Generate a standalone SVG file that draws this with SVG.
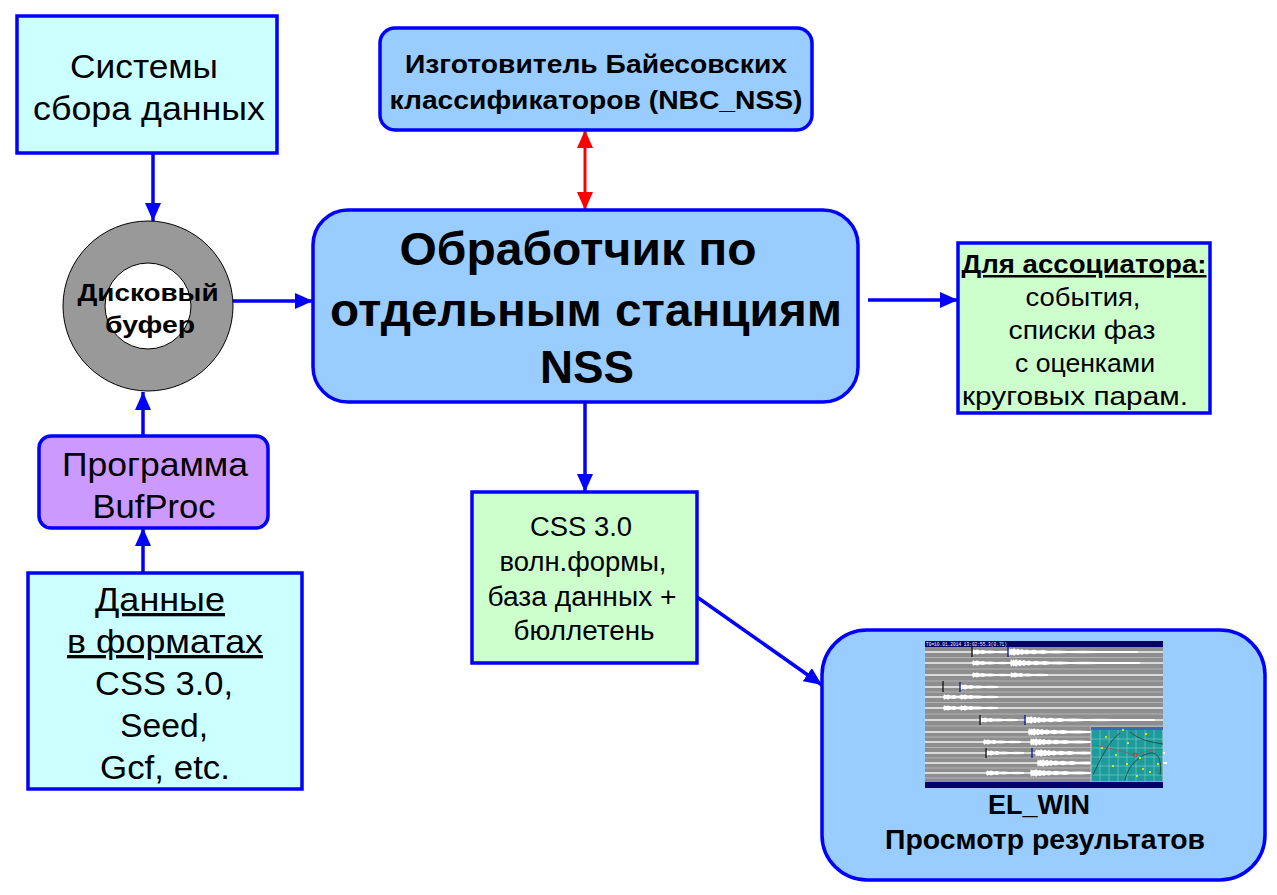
<svg xmlns="http://www.w3.org/2000/svg" xmlns:xlink="http://www.w3.org/1999/xlink" width="1277" height="895" viewBox="0 0 1277 895">
<style>
.box{stroke:#0000FF;stroke-width:3.5}
.cyan{fill:#CCFFFF}
.blue{fill:#99CCFF}
.green{fill:#CCFFCC}
.purple{fill:#CC99FF}
.t{font-family:"Liberation Sans",Arial,sans-serif;fill:#000;text-anchor:middle}
.b{font-weight:bold}
.con{stroke:#0000FF;stroke-width:3.5;fill:none}
.red{stroke:#FF0000;stroke-width:3;fill:none}
.tr{stroke:#FFFFFF;stroke-width:1.4;opacity:0.9}
.bl{fill:#FFFFFF}
.gl{stroke:#B4B4B4;stroke-width:1.2}
</style>
<defs>
<marker id="ah" viewBox="0 0 18 16" refX="18" refY="8" markerWidth="18" markerHeight="16" markerUnits="userSpaceOnUse" orient="auto-start-reverse">
<path d="M0,0 L18,8 L0,16 Z" fill="#0000FF"/>
</marker>
<marker id="ahr" viewBox="0 0 18 16" refX="18" refY="8" markerWidth="18" markerHeight="16" markerUnits="userSpaceOnUse" orient="auto-start-reverse">
<path d="M0,0 L18,8 L0,16 Z" fill="#FF0000"/>
</marker>
<path id="bst" class="bl" d="M0,0 L1,-4.2 L2,-2 L3,-3.5 L5,-2.6 L6,-4 L8,-2.2 L10,-3.2 L12,-2 L14,-2.9 L16,-1.8 L19,-2.6 L22,-1.6 L26,-2.2 L30,-1.4 L35,-1.9 L40,-1.2 L50,-1.5 L60,-1.1 L75,-1.3 L90,-1 L110,-1.1 L130,-0.9 L130,0.9 L110,1.1 L90,1 L75,1.3 L60,1.1 L50,1.5 L40,1.2 L35,1.9 L30,1.4 L26,2.2 L22,1.6 L19,2.6 L16,1.8 L14,2.9 L12,2 L10,3.2 L8,2.2 L6,4 L5,2.6 L3,3.5 L2,2 L1,4.2 Z"/>
<path id="bsm" class="bl" d="M0,0 L1,-2.8 L3,-1.8 L5,-2.4 L8,-1.6 L11,-2 L14,-1.3 L18,-1.6 L24,-1.1 L30,-1.3 L38,-1 L38,1 L30,1.3 L24,1.1 L18,1.6 L14,1.3 L11,2 L8,1.6 L5,2.4 L3,1.8 L1,2.8 Z"/>
</defs>

<g id="connectors">
<line class="con" x1="153" y1="153" x2="153" y2="221" marker-end="url(#ah)"/>
<line class="con" x1="233" y1="301" x2="313" y2="301" marker-end="url(#ah)"/>
<line class="con" x1="143" y1="436" x2="143" y2="392" marker-end="url(#ah)"/>
<line class="con" x1="143" y1="573" x2="143" y2="528" marker-end="url(#ah)"/>
<line class="red" x1="585" y1="130" x2="585" y2="210" marker-start="url(#ahr)" marker-end="url(#ahr)"/>
<line class="con" x1="868" y1="300" x2="958" y2="300" marker-end="url(#ah)"/>
<line class="con" x1="585" y1="402" x2="585" y2="492" marker-end="url(#ah)"/>
<line class="con" x1="697" y1="597" x2="822" y2="685" marker-end="url(#ah)"/>
</g>

<g id="sistemy">
<rect class="box cyan" x="17" y="16" width="260" height="137"/>
<text class="t" x="144" y="78" font-size="34" textLength="148" lengthAdjust="spacingAndGlyphs">Системы</text>
<text class="t" x="149" y="120" font-size="34" textLength="232" lengthAdjust="spacingAndGlyphs">сбора данных</text>
</g>

<g id="buffer">
<circle cx="148" cy="306" r="85" fill="#999999" stroke="#000" stroke-width="1"/>
<circle cx="148" cy="306" r="43" fill="#FFFFFF" stroke="#000" stroke-width="1"/>
<text class="t b" x="148" y="301" font-size="24" textLength="141" lengthAdjust="spacingAndGlyphs">Дисковый</text>
<text class="t b" x="150" y="333" font-size="24" textLength="90" lengthAdjust="spacingAndGlyphs">буфер</text>
</g>

<g id="bufproc">
<rect class="box purple" x="39" y="436" width="229" height="92" rx="12"/>
<text class="t" x="155" y="476" font-size="33" textLength="186" lengthAdjust="spacingAndGlyphs">Программа</text>
<text class="t" x="154" y="518" font-size="33" textLength="123" lengthAdjust="spacingAndGlyphs">BufProc</text>
</g>

<g id="dannye">
<rect class="box cyan" x="28" y="573" width="274" height="216"/>
<text class="t" x="160" y="611" font-size="33" textLength="130" lengthAdjust="spacingAndGlyphs" text-decoration="underline">Данные</text>
<text class="t" x="165" y="653" font-size="33" textLength="196" lengthAdjust="spacingAndGlyphs" text-decoration="underline">в форматах</text>
<text class="t" x="164" y="695" font-size="33" textLength="138" lengthAdjust="spacingAndGlyphs">CSS 3.0,</text>
<text class="t" x="164" y="737" font-size="33" textLength="88" lengthAdjust="spacingAndGlyphs">Seed,</text>
<text class="t" x="165" y="779" font-size="33" textLength="130" lengthAdjust="spacingAndGlyphs">Gcf, etc.</text>
</g>

<g id="nbc">
<rect class="box blue" x="380" y="28" width="432" height="102" rx="15"/>
<text class="t b" x="596" y="73" font-size="25" textLength="382" lengthAdjust="spacingAndGlyphs">Изготовитель Байесовских</text>
<text class="t b" x="596" y="109" font-size="25" textLength="413" lengthAdjust="spacingAndGlyphs">классификаторов (NBC_NSS)</text>
</g>

<g id="nss">
<rect class="box blue" x="313" y="210" width="545" height="192" rx="35"/>
<text class="t b" x="578" y="265" font-size="47" textLength="357" lengthAdjust="spacingAndGlyphs">Обработчик по</text>
<text class="t b" x="586" y="326" font-size="47" textLength="512" lengthAdjust="spacingAndGlyphs">отдельным станциям</text>
<text class="t b" x="587" y="383" font-size="47" textLength="94" lengthAdjust="spacingAndGlyphs">NSS</text>
</g>

<g id="assoc">
<rect class="box green" x="958" y="243" width="252" height="170"/>
<text class="t b" x="1084" y="273" font-size="25" textLength="245" lengthAdjust="spacingAndGlyphs" text-decoration="underline">Для ассоциатора:</text>
<text class="t" x="1083" y="306" font-size="26" textLength="115" lengthAdjust="spacingAndGlyphs">события,</text>
<text class="t" x="1082" y="339" font-size="26" textLength="147" lengthAdjust="spacingAndGlyphs">списки фаз</text>
<text class="t" x="1085" y="372" font-size="26" textLength="140" lengthAdjust="spacingAndGlyphs">с оценками</text>
<text class="t" x="1075" y="405" font-size="26" textLength="226" lengthAdjust="spacingAndGlyphs">круговых парам.</text>
</g>

<g id="css">
<rect class="box green" x="472" y="492" width="225" height="171"/>
<text class="t" x="581" y="536" font-size="27" textLength="102" lengthAdjust="spacingAndGlyphs">CSS 3.0</text>
<text class="t" x="583" y="571" font-size="27" textLength="167" lengthAdjust="spacingAndGlyphs">волн.формы,</text>
<text class="t" x="582" y="606" font-size="27" textLength="189" lengthAdjust="spacingAndGlyphs">база данных +</text>
<text class="t" x="584" y="640" font-size="27" textLength="141" lengthAdjust="spacingAndGlyphs">бюллетень</text>
</g>

<g id="elwin">
<rect class="box blue" x="822" y="630" width="443" height="250" rx="45"/>
<g id="screenshot">
<rect x="925" y="641" width="238" height="147" fill="#8E8E8E"/>
<g class="gl">
<line x1="925" y1="657.5" x2="1163" y2="657.5"/>
<line x1="925" y1="669" x2="1163" y2="669"/>
<line x1="925" y1="681" x2="1163" y2="681"/>
<line x1="925" y1="692" x2="1163" y2="692"/>
<line x1="925" y1="702.5" x2="1163" y2="702.5"/>
<line x1="925" y1="714" x2="1163" y2="714"/>
<line x1="925" y1="726" x2="1163" y2="726"/>
<line x1="925" y1="737" x2="1163" y2="737"/>
<line x1="925" y1="747.5" x2="1163" y2="747.5"/>
<line x1="925" y1="758" x2="1163" y2="758"/>
<line x1="925" y1="768" x2="1163" y2="768"/>
<line x1="925" y1="778" x2="1163" y2="778"/>
</g>
<g class="tr">
<line x1="925" y1="652" x2="1163" y2="652"/>
<line x1="925" y1="663" x2="1163" y2="663"/>
<line x1="925" y1="675" x2="1163" y2="675"/>
<line x1="925" y1="687" x2="1163" y2="687"/>
<line x1="925" y1="697" x2="1163" y2="697"/>
<line x1="925" y1="708" x2="1163" y2="708"/>
<line x1="925" y1="720" x2="1163" y2="720"/>
<line x1="925" y1="732" x2="1163" y2="732"/>
<line x1="925" y1="742" x2="1163" y2="742"/>
<line x1="925" y1="753" x2="1163" y2="753"/>
<line x1="925" y1="763" x2="1163" y2="763"/>
<line x1="925" y1="773" x2="1163" y2="773"/>
</g>
<use xlink:href="#bsm" x="972" y="652"/>
<use xlink:href="#bst" x="1008" y="652"/>
<use xlink:href="#bsm" x="972" y="663"/>
<use xlink:href="#bst" x="1010" y="663"/>
<use xlink:href="#bsm" x="972" y="675"/>
<use xlink:href="#bsm" x="1010" y="675"/>
<use xlink:href="#bsm" x="960" y="687"/>
<use xlink:href="#bsm" x="943" y="697"/>
<use xlink:href="#bsm" x="960" y="697"/>
<use xlink:href="#bsm" x="943" y="708"/>
<use xlink:href="#bsm" x="960" y="708"/>
<use xlink:href="#bsm" x="980" y="720"/>
<use xlink:href="#bst" x="1025" y="720"/>
<use xlink:href="#bst" x="1028" y="732"/>
<use xlink:href="#bsm" x="983" y="742"/>
<use xlink:href="#bst" x="1030" y="742"/>
<use xlink:href="#bsm" x="986" y="753"/>
<use xlink:href="#bst" x="1035" y="753"/>
<use xlink:href="#bst" x="1037" y="763"/>
<use xlink:href="#bsm" x="986" y="773"/>
<use xlink:href="#bst" x="1030" y="773"/>
<g stroke="#111" stroke-width="1.3">
<line x1="972" y1="645" x2="972" y2="657"/>
<line x1="943" y1="681" x2="943" y2="692"/>
<line x1="980" y1="715" x2="980" y2="725"/>
<line x1="986" y1="748" x2="986" y2="758"/>
</g>
<g stroke="#1010A0" stroke-width="1.3">
<line x1="1008" y1="646" x2="1008" y2="657"/>
<line x1="960" y1="682" x2="960" y2="692"/>
<line x1="1025" y1="715" x2="1025" y2="725"/>
<line x1="1032" y1="748" x2="1032" y2="758"/>
</g>
<rect x="925" y="641" width="238" height="6" fill="#000066"/>
<text x="926" y="646" font-family="Liberation Mono,monospace" font-size="4.5" fill="#FFFFFF">T0=10.01.2014  13:02:55.3(0.71)</text>
<g id="map">
<rect x="1091" y="727" width="72" height="55" fill="#1E9C9C" stroke="#C8C8C8" stroke-width="1"/>
<rect x="1091" y="727" width="72" height="3" fill="#3A6AAA"/>
<g stroke="#7FCFCF" stroke-width="0.6">
<line x1="1100" y1="730" x2="1100" y2="782"/>
<line x1="1109" y1="730" x2="1109" y2="782"/>
<line x1="1118" y1="730" x2="1118" y2="782"/>
<line x1="1127" y1="730" x2="1127" y2="782"/>
<line x1="1136" y1="730" x2="1136" y2="782"/>
<line x1="1145" y1="730" x2="1145" y2="782"/>
<line x1="1154" y1="730" x2="1154" y2="782"/>
<line x1="1091" y1="739" x2="1163" y2="739"/>
<line x1="1091" y1="748" x2="1163" y2="748"/>
<line x1="1091" y1="757" x2="1163" y2="757"/>
<line x1="1091" y1="766" x2="1163" y2="766"/>
<line x1="1091" y1="775" x2="1163" y2="775"/>
</g>
<g fill="none" stroke="#1E3C3C" stroke-width="0.8">
<path d="M1093,775 C1100,760 1108,742 1120,733"/>
<path d="M1125,780 C1128,765 1140,755 1150,753 C1158,752 1162,760 1160,775"/>
<path d="M1130,732 C1140,740 1150,742 1163,744"/>
</g>
<g fill="none" stroke="#A05050" stroke-width="0.7">
<path d="M1093,745 C1110,748 1125,752 1135,755"/>
<path d="M1135,755 C1145,752 1155,748 1163,750"/>
</g>
<circle cx="1135" cy="755" r="2" fill="none" stroke="#C03030" stroke-width="0.8"/>
<g fill="#FFFF00">
<circle cx="1106" cy="737" r="1"/>
<circle cx="1123" cy="730" r="1"/>
<circle cx="1146" cy="734" r="1"/>
<circle cx="1102" cy="748" r="1"/>
<circle cx="1116" cy="755" r="1"/>
<circle cx="1127" cy="764" r="1"/>
<circle cx="1140" cy="758" r="1"/>
<circle cx="1128" cy="743" r="1"/>
<circle cx="1143" cy="769" r="1"/>
<circle cx="1137" cy="776" r="1"/>
<circle cx="1158" cy="764" r="1"/>
<circle cx="1150" cy="772" r="1"/>
<circle cx="1113" cy="766" r="1"/>
</g>
</g>
<rect x="925" y="782" width="238" height="6" fill="#000066"/>
</g>
<text class="t b" x="1039" y="814" font-size="27" textLength="102" lengthAdjust="spacingAndGlyphs">EL_WIN</text>
<text class="t b" x="1045" y="849" font-size="27" textLength="320" lengthAdjust="spacingAndGlyphs">Просмотр результатов</text>
</g>
</svg>
